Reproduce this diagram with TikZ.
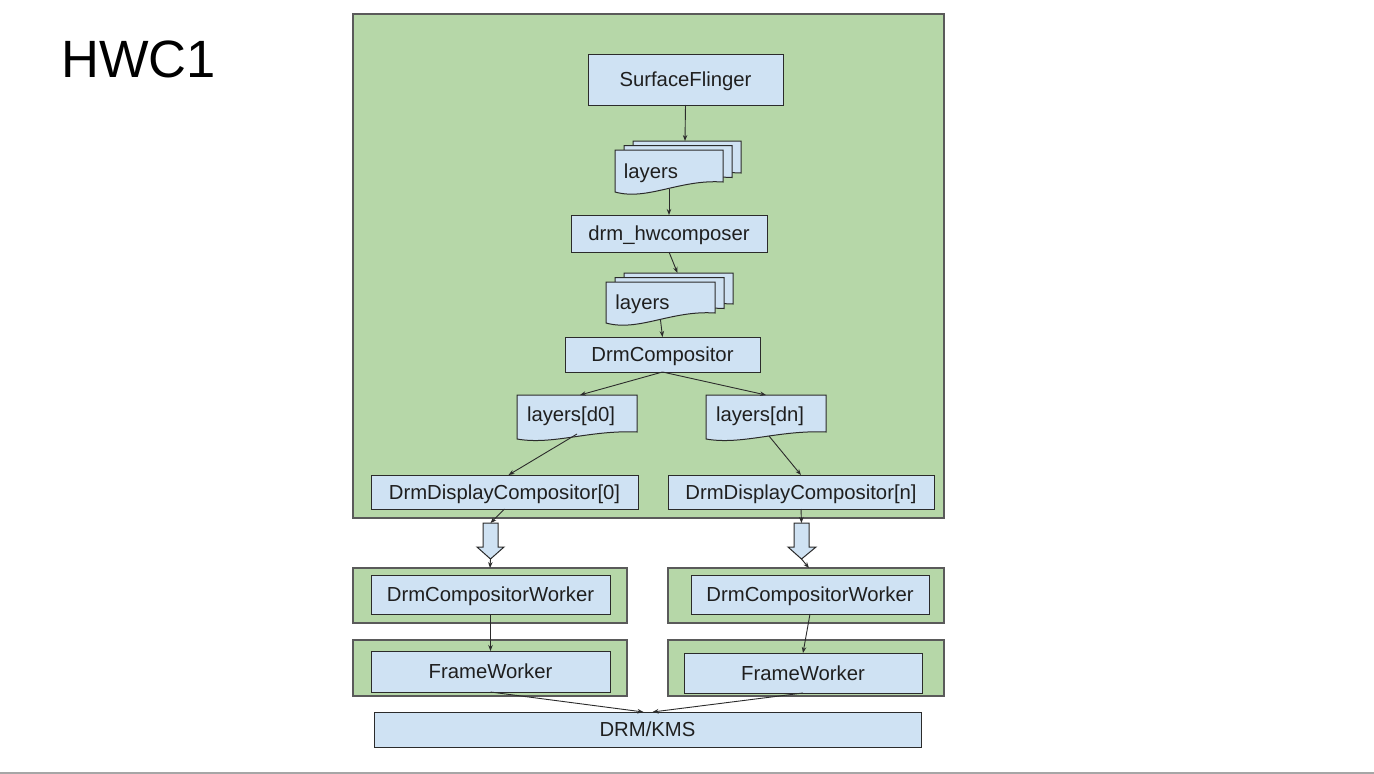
\documentclass[tikz,border=0pt]{standalone}
\usepackage{fontspec}
\setmainfont{Liberation Sans}
\usetikzlibrary{arrows.meta,calc}
\definecolor{gfill}{HTML}{B6D7A8}
\definecolor{bfill}{HTML}{CFE2F3}
\definecolor{gline}{HTML}{5A5A5A}
\definecolor{bline}{HTML}{2B2B2B}
\definecolor{txtc}{HTML}{1F1F1F}
\newcommand\bx[7]{\node[#6,minimum width={(#4-#2)*1pt},minimum height={(#5-#3)*1pt}] (#1) at ({(#2+#4)/2},{(#3+#5)/2}) {#7};}
\newcommand\docshape[5]{\filldraw[docsh] (#1,#2) -- (#3,#2) -- (#3,{#4-#5}) .. controls ({#1+0.6*(#3-#1)},{#4-1.3*#5}) and ({#1+0.3*(#3-#1)},{#4+0.9*#5}) .. (#1,#4) -- cycle;}
\begin{document}
\begin{tikzpicture}[x=1pt,y=-1pt,
  bluebox/.style={draw=bline,fill=bfill,line width=1pt,inner sep=0pt,outer sep=0pt,font=\fontsize{20.3}{24}\selectfont,text=txtc,text height=14.3pt,text depth=0pt},
  greenbox/.style={draw=gline,fill=gfill,line width=1.2pt,inner sep=0pt,outer sep=0pt},
  doctxt/.style={inner sep=0pt,outer sep=0pt,font=\fontsize{20.3}{24}\selectfont,text=txtc,text height=14.3pt,text depth=0pt},
  doctxtb/.style={doctxt,text depth=5pt},
  docsh/.style={draw=bline,fill=bfill,line width=1pt},
  barrow/.style={draw=bline,fill=bfill,line width=1pt,line join=miter},
  conn/.style={draw=bline,line width=0.9pt,-{Stealth[length=6pt,width=4.5pt]}}]
\useasboundingbox (0,0) rectangle (1374,774);
\fill[white] (0,0) rectangle (1374,774);
\fill[black!35] (0,771.5) rectangle (1374,774);
% title
\node[anchor=base west,inner sep=0pt,font=\fontsize{52.5}{60}\selectfont] (title) at (61,77.5) {HWC1};
% green groups
\bx{G0}{353}{14}{944}{518}{greenbox}{}
\bx{G1}{353}{568}{627}{623}{greenbox}{}
\bx{G2}{668}{568}{944}{623}{greenbox}{}
\bx{G3}{353}{640}{627}{696}{greenbox}{}
\bx{G4}{668}{640}{944}{696}{greenbox}{}
% blue boxes
\bx{SF}{588}{54}{783}{105}{bluebox}{SurfaceFlinger}
\bx{DH}{571}{215}{767}{252}{bluebox}{drm\_hwcomposer}
\bx{DC}{565}{337}{760}{372}{bluebox}{DrmCompositor}
\bx{DDC0}{371}{475}{638}{509}{bluebox}{DrmDisplayCompositor[0]}
\bx{DDCn}{668}{475}{934}{509}{bluebox}{DrmDisplayCompositor[n]}
\bx{DCW1}{371}{575}{610}{614}{bluebox}{DrmCompositorWorker}
\bx{DCW2}{691}{575}{929}{614}{bluebox}{DrmCompositorWorker}
\bx{FW1}{371}{651}{610}{692}{bluebox}{FrameWorker}
\bx{FW2}{684}{653}{922}{693}{bluebox}{FrameWorker}
\bx{DRM}{374}{712}{921}{747}{bluebox}{DRM/KMS}
% document stacks
\docshape{633}{141}{741}{183}{10}
\docshape{624}{145.5}{732}{187.5}{10}
\docshape{615}{150}{723}{192}{10}
\bx{L1}{615}{150}{723}{192}{doctxt}{\hspace*{-36pt}layers}
\docshape{624}{273}{733}{314}{10}
\docshape{615}{277.5}{724}{318.5}{10}
\docshape{606}{282}{715}{323}{10}
\bx{L2}{606}{282}{715}{323}{doctxt}{\hspace*{-36pt}layers}
\docshape{517}{395}{637}{439}{7}
\bx{Ld0}{517}{395}{637}{439}{doctxtb}{\hspace*{-12pt}layers[d0]}
\docshape{706}{395}{826}{439}{7}
\bx{Ldn}{706}{395}{826}{439}{doctxtb}{\hspace*{-12pt}layers[dn]}
% block arrows
\filldraw[barrow] (483,523) -- (498,523) -- (498,547) -- (504,547) -- (490.5,559) -- (477,547) -- (483,547) -- cycle;
\filldraw[barrow] (794,523) -- (809,523) -- (809,547) -- (816,547) -- (801.5,559) -- (788,547) -- (794,547) -- cycle;
\coordinate (BA1t) at (490.5,523);
\coordinate (BA1b) at (490.5,559);
\coordinate (BA2t) at (801.5,523);
\coordinate (BA2b) at (801.5,559);
% connectors
\draw[conn] (SF.south) -- ([xshift=16pt,yshift=9pt]L1.north);
\draw[conn] ([yshift=3pt]L1.south) -- (DH.north);
\draw[conn] (DH.south) -- ([xshift=17pt,yshift=9pt]L2.north);
\draw[conn] ([yshift=3pt]L2.south) -- (DC.north);
\draw[conn] (DC.south) -- ([xshift=3pt]Ld0.north);
\draw[conn] (DC.south) -- (Ldn.north);
\draw[conn] ([yshift=5pt]Ld0.south) -- ([xshift=4pt]DDC0.north);
\draw[conn] ([xshift=3pt,yshift=3pt]Ldn.south) -- (DDCn.north);
\draw[conn] (DDC0.south) -- (BA1t);
\draw[conn] (DDCn.south) -- (BA2t);
\draw[conn] (BA1b) -- (G1.north);
\draw[conn] (BA2b) -- ([xshift=3pt]G2.north);
\draw[conn] (DCW1.south) -- (FW1.north);
\draw[conn] (DCW2.south) -- (FW2.north);
\draw[conn] (FW1.south) -- ([xshift=-4pt]DRM.north);
\draw[conn] (FW2.south) -- ([xshift=5pt]DRM.north);
\end{tikzpicture}
\end{document}
